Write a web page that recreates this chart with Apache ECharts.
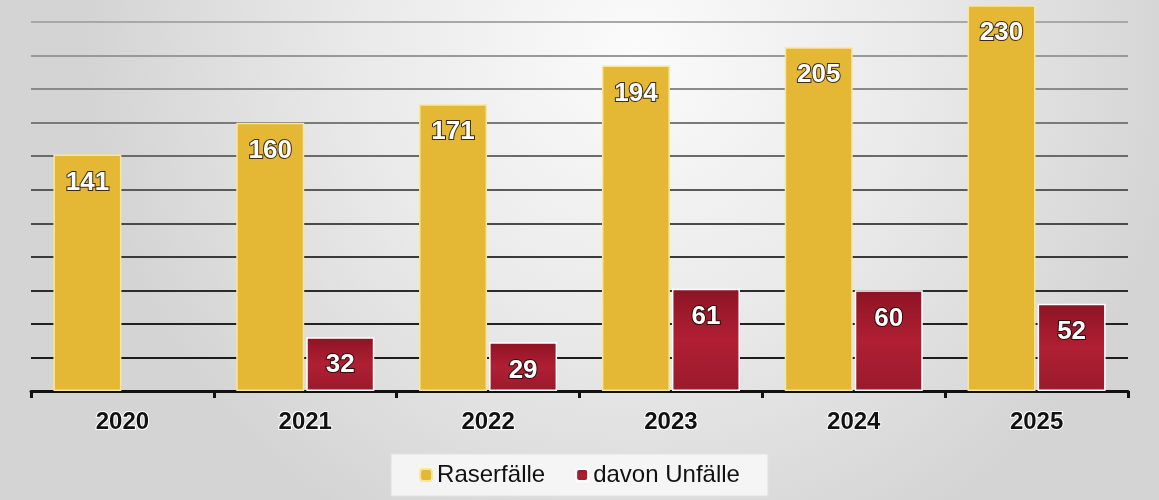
<!DOCTYPE html>
<html>
<head>
<meta charset="utf-8">
<script src="https://cdn.jsdelivr.net/npm/echarts@6/dist/echarts.min.js"></script>
<style>
  html, body { margin: 0; padding: 0; }
  #main { width: 1159px; height: 500px; }
</style>
</head>
<body>
<div id="main"></div>
<script>
var years = ['2020', '2021', '2022', '2023', '2024', '2025'];
var raserfaelle = [141, 160, 171, 194, 205, 230];
var unfaelle = [null, 32, 29, 61, 60, 52];
var seriesNames = ['Raserfälle', 'davon Unfälle'];

var myChart = echarts.init(document.getElementById('main'));

// Gitterlinien: oben hell, unten dunkel
var lineColors = ['#1a1a1a', '#1c1c1c', '#222', '#2c2c2c', '#3a3a3a', '#4a4a4a', '#5a5a5a', '#6a6a6a', '#7a7a7a', '#8a8a8a', '#999', '#a8a8a8'];

var labelStyle = {
    show: true,
    position: 'insideTop',
    distance: 15,
    color: '#fff',
    fontFamily: 'Liberation Sans',
    fontWeight: 'bold',
    fontSize: 26,
    textBorderColor: '#3a2a10',
    textBorderWidth: 2
};

var option = {
    backgroundColor: {
        type: 'radial', x: 0.55, y: 0.1, r: 1.1,
        colorStops: [
            { offset: 0, color: '#fbfbfb' },
            { offset: 0.5, color: '#eaeaea' },
            { offset: 1, color: '#d4d4d4' }
        ]
    },
    animation: false,
    grid: { left: 31, right: 31, top: 22, bottom: 109 },
    legend: {
        data: seriesNames,
        bottom: 4,
        left: 'center',
        itemWidth: 12,
        itemHeight: 12,
        itemGap: 30,
        padding: [9, 28, 9, 28],
        backgroundColor: 'rgba(246,246,246,0.95)',
        borderColor: '#e2e2e2',
        borderWidth: 1,
        textStyle: { fontFamily: 'Liberation Sans', fontSize: 24, color: '#111' }
    },
    xAxis: {
        type: 'category',
        data: years,
        axisLine: { lineStyle: { color: '#111', width: 3 } },
        axisTick: { show: true, length: 7, lineStyle: { color: '#111', width: 3 } },
        axisLabel: {
            margin: 19,
            color: '#111',
            fontFamily: 'Liberation Sans',
            fontWeight: 'bold',
            fontSize: 24,
            textBorderColor: '#fff',
            textBorderWidth: 2
        }
    },
    yAxis: {
        type: 'value',
        min: 0,
        max: 220,
        interval: 20,
        axisLine: { show: false },
        axisTick: { show: false },
        axisLabel: { show: false },
        splitLine: { lineStyle: { color: lineColors, width: 2 } }
    },
    series: [{
        name: seriesNames[0],
        type: 'bar',
        data: raserfaelle,
        clip: false,
        barWidth: 68,
        barGap: '3%',
        itemStyle: {
            color: '#e4b734',
            borderColor: '#f6e7a0',
            borderWidth: 1.5
        },
        label: labelStyle
    }, {
        name: seriesNames[1],
        type: 'bar',
        data: unfaelle,
        clip: false,
        barWidth: 68,
        itemStyle: {
            color: {
                type: 'linear', x: 0, y: 0, x2: 0, y2: 1,
                colorStops: [
                    { offset: 0, color: '#8c1424' },
                    { offset: 0.5, color: '#b01f33' },
                    { offset: 1, color: '#9a1a2c' }
                ]
            },
            borderColor: '#fff',
            borderWidth: 1.5
        },
        label: Object.assign({}, labelStyle, { textBorderColor: '#2a0a0a' })
    }]
};
myChart.setOption(option);
</script>
</body>
</html>
